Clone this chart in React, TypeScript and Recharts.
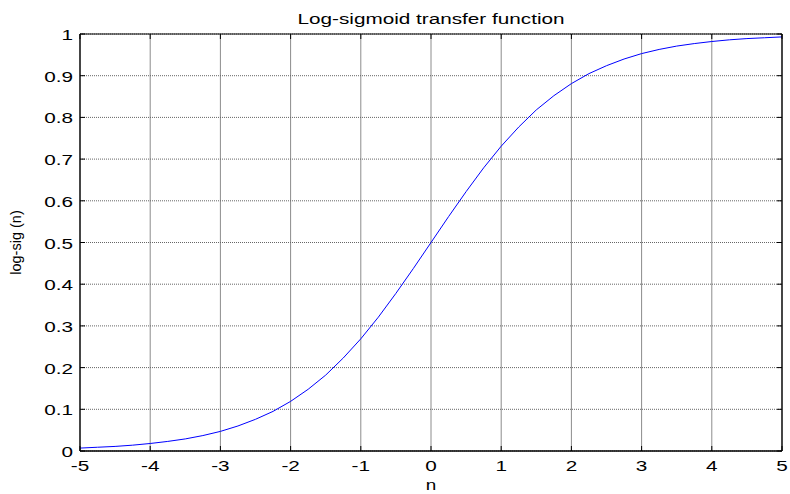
import React from "react";
import {
  LineChart,
  Line,
  XAxis,
  YAxis,
  CartesianGrid,
  Label,
} from "recharts";

// Net input values n and the log-sigmoid response
const nValues = [
  -5, -4.75, -4.5, -4.25, -4, -3.75, -3.5, -3.25, -3, -2.75, -2.5, -2.25, -2,
  -1.75, -1.5, -1.25, -1, -0.75, -0.5, -0.25, 0, 0.25, 0.5, 0.75, 1, 1.25, 1.5,
  1.75, 2, 2.25, 2.5, 2.75, 3, 3.25, 3.5, 3.75, 4, 4.25, 4.5, 4.75, 5,
];
const logsigValues = [
  0.007, 0.009, 0.011, 0.014, 0.018, 0.023, 0.029, 0.037, 0.047, 0.06, 0.076,
  0.095, 0.119, 0.148, 0.182, 0.223, 0.269, 0.321, 0.378, 0.438, 0.5, 0.562,
  0.622, 0.679, 0.731, 0.777, 0.818, 0.852, 0.881, 0.905, 0.924, 0.94, 0.953,
  0.963, 0.971, 0.977, 0.982, 0.986, 0.989, 0.991, 0.993,
];

const xTicks = [-5, -4, -3, -2, -1, 0, 1, 2, 3, 4, 5];
const yTicks = [0, 0.1, 0.2, 0.3, 0.4, 0.5, 0.6, 0.7, 0.8, 0.9, 1];

const titleText = "Log-sigmoid transfer function";
const xLabelText = "n";
const yLabelText = "log-sig (n)";

const data = nValues.map((n, i) => ({ n, y: logsigValues[i] }));

const FONT = "Arial, 'Liberation Sans', Helvetica, sans-serif";
const TICK_LEN = 5;
const WIDE = 1.48; // horizontal stretch of the figure's lettering

const fmtY = (v: number) => (v === 0 || v === 1 ? String(v) : v.toFixed(1));

// Text drawn with a horizontal stretch around its anchor point
const WideText = ({
  x,
  y,
  anchor,
  size,
  sx = WIDE,
  dy,
  children,
}: {
  x: number;
  y: number;
  anchor: "start" | "middle" | "end";
  size: number;
  sx?: number;
  dy?: string;
  children: React.ReactNode;
}) => (
  <text
    transform={`translate(${x} ${y}) scale(${sx} 1)`}
    x={0}
    y={0}
    dy={dy}
    textAnchor={anchor}
    fontSize={size}
    fontFamily={FONT}
    fill="#000"
  >
    {children}
  </text>
);

const BottomTick = (props: any) => {
  const { x, y, payload } = props;
  return (
    <g>
      <line x1={x} y1={y} x2={x} y2={y - TICK_LEN} stroke="#000" />
      <WideText x={x} y={y + 20} anchor="middle" size={14}>
        {payload.value}
      </WideText>
    </g>
  );
};

const LeftTick = (props: any) => {
  const { x, y, payload } = props;
  return (
    <g>
      <line x1={x} y1={y} x2={x + TICK_LEN} y2={y} stroke="#000" />
      <WideText x={x - 7} y={y + 1} dy="0.36em" anchor="end" size={14}>
        {fmtY(payload.value)}
      </WideText>
    </g>
  );
};

const TopTick = (props: any) => {
  const { x, y } = props;
  return <line x1={x} y1={y} x2={x} y2={y + TICK_LEN} stroke="#000" />;
};

const RightTick = (props: any) => {
  const { x, y } = props;
  return <line x1={x} y1={y} x2={x - TICK_LEN} y2={y} stroke="#000" />;
};

export default function App() {
  return (
    <div style={{ position: "absolute", left: 0, top: 0, background: "#fff" }}>
      <LineChart
        width={790}
        height={494}
        data={data}
        margin={{ top: 33, right: 7, bottom: 13, left: 20 }}
      >
        <CartesianGrid
          horizontal={false}
          vertical
          stroke="#8c8c8c"
          strokeWidth={1}
        />
        <CartesianGrid
          horizontal
          vertical={false}
          stroke="#666"
          strokeDasharray="1 1"
        />
        <XAxis
          xAxisId={0}
          dataKey="n"
          type="number"
          domain={[-5, 5]}
          ticks={xTicks}
          interval={0}
          height={30}
          tickSize={0}
          tickMargin={0}
          tickLine={false}
          tick={<BottomTick />}
          axisLine={{ stroke: "#000", strokeWidth: 1.3 }}
          allowDataOverflow
        >
          <Label
            content={({ viewBox }: any) => (
              <WideText
                x={viewBox.x + viewBox.width / 2}
                y={viewBox.y + 39}
                anchor="middle"
                size={14}
                sx={1.35}
              >
                {xLabelText}
              </WideText>
            )}
          />
        </XAxis>
        <XAxis
          xAxisId="top"
          orientation="top"
          dataKey="n"
          type="number"
          domain={[-5, 5]}
          ticks={xTicks}
          interval={0}
          height={1}
          tickSize={0}
          tickMargin={0}
          tickLine={false}
          tick={<TopTick />}
          axisLine={{ stroke: "#000", strokeWidth: 1 }}
          allowDataOverflow
        >
          <Label
            content={({ viewBox }: any) => (
              <WideText
                x={viewBox.x + viewBox.width / 2}
                y={viewBox.y + viewBox.height - 10.5}
                anchor="middle"
                size={14}
              >
                {titleText}
              </WideText>
            )}
          />
        </XAxis>
        <YAxis
          yAxisId={0}
          type="number"
          domain={[0, 1]}
          ticks={yTicks}
          interval={0}
          width={60}
          tickSize={0}
          tickMargin={0}
          tickLine={false}
          tick={<LeftTick />}
          axisLine={{ stroke: "#000", strokeWidth: 1.3 }}
          allowDataOverflow
        >
          <Label
            content={({ viewBox }: any) => {
              const cx = viewBox.x + 1;
              const cy = viewBox.y + viewBox.height / 2;
              return (
                <text
                  x={cx}
                  y={cy}
                  transform={`rotate(-90 ${cx} ${cy})`}
                  textAnchor="middle"
                  fontSize={14.5}
                  fontFamily={FONT}
                  fill="#000"
                >
                  {yLabelText}
                </text>
              );
            }}
          />
        </YAxis>
        <YAxis
          yAxisId="right"
          orientation="right"
          type="number"
          domain={[0, 1]}
          ticks={yTicks}
          interval={0}
          width={1}
          tickSize={0}
          tickMargin={0}
          tickLine={false}
          tick={<RightTick />}
          axisLine={{ stroke: "#000", strokeWidth: 1.3 }}
          allowDataOverflow
        />
        <Line
          xAxisId={0}
          yAxisId={0}
          type="linear"
          dataKey="y"
          stroke="#0000ff"
          strokeWidth={1}
          dot={false}
          isAnimationActive={false}
        />
        {/* invisible series that binds the top and right frame axes */}
        <Line
          xAxisId="top"
          yAxisId="right"
          type="linear"
          dataKey="y"
          stroke="none"
          dot={false}
          activeDot={false}
          isAnimationActive={false}
        />
      </LineChart>
    </div>
  );
}
